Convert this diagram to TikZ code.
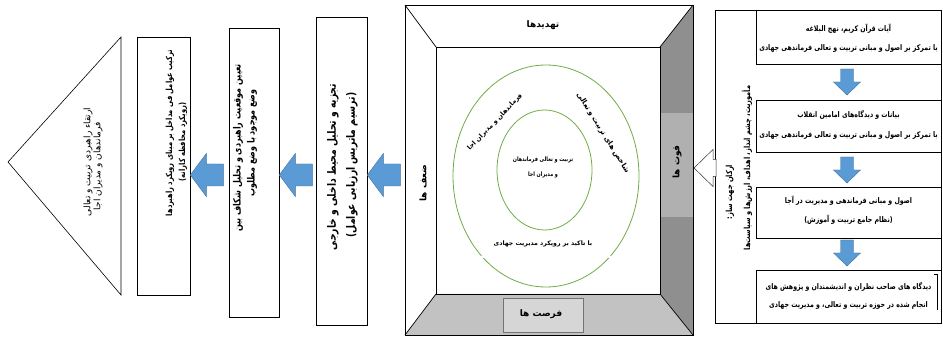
\documentclass[tikz,border=0pt]{standalone}
\usepackage{fontspec}
\newfontfamily\fafont[Script=Arabic]{DejaVu Sans}
\newfontfamily\fanarrow[Script=Arabic, FakeStretch=0.8]{DejaVu Sans}
\TeXXeTstate=1
\newcommand{\fatext}[1]{\beginR #1\endR}
\definecolor{arrowblue}{HTML}{5B9BD5}
\definecolor{arrowedge}{HTML}{41719C}
\definecolor{ringgreen}{HTML}{70AD47}
\definecolor{strengthgray}{HTML}{8F8F8F}
\definecolor{strengthbox}{HTML}{B0B0B0}
\definecolor{oppgray}{HTML}{C2C2C2}
\definecolor{oppbox}{HTML}{D6D6D6}
\tikzset{
  box/.style={draw, line width=0.6pt, inner sep=0pt},
  txt/.style={inner sep=0pt, align=center, font=\fafont\bfseries\fontsize{6}{8}\selectfont},
  bluearrow/.style={fill=arrowblue, draw=arrowedge, line width=0.4pt},
  leftarrowshape/.pic={\path[pic actions] (0,0) -- (16,-21.5) -- (16,-11) -- (33,-11) -- (33,11) -- (16,11) -- (16,21.5) -- cycle;},
  downarrowshape/.pic={\path[pic actions] (0,0) -- (-13.5,-13) -- (-6.5,-13) -- (-6.5,-26) -- (6.5,-26) -- (6.5,-13) -- (13.5,-13) -- cycle;},
  hollowarrowshape/.pic={\path[pic actions] (0,0) -- (19,-18.5) -- (19,-8.5) -- (22,-8.5) -- (22,8.5) -- (19,8.5) -- (19,18.5) -- cycle;},
}
\begin{document}
\begin{tikzpicture}[x=1pt,y=-1pt]
\useasboundingbox (0,0) rectangle (943,339);

% ---------- right block ----------
\node[box, minimum width=226, minimum height=313] (rightblock) at (828,166.5) {};
\node[box, minimum width=185, minimum height=54] (src1) at (848.5,37) {};
\node[box, minimum width=185, minimum height=52] (src2) at (848.5,126) {};
\node[box, minimum width=185, minimum height=51] (src3) at (848.5,212.5) {};
\node[box, minimum width=185, minimum height=53] (src4) at (848.5,296.5) {};
\draw[line width=0.5pt] (934,274) -- (937,274) -- (937,310);

\node[txt, font=\fanarrow\bfseries\fontsize{7.8}{19.5}\selectfont] (src1t) at (848.5,38) {\fatext{آیات قرآن کریم، نهج البلاغه}\\\fatext{با تمرکز بر اصول و مبانی تربیت و تعالی فرماندهی جهادی}};
\node[txt, font=\fanarrow\bfseries\fontsize{7.8}{19.5}\selectfont] (src2t) at (848.5,125) {\fatext{بیانات و دیدگاه‌های امامین انقلاب}\\\fatext{با تمرکز بر اصول و مبانی تربیت و تعالی فرماندهی جهادی}};
\node[txt, font=\fanarrow\bfseries\fontsize{7.8}{19.5}\selectfont] (src3t) at (848.5,210) {\fatext{اصول و مبانی فرماندهی و مدیریت در آجا}\\\fatext{(نظام جامع تربیت و آموزش)}};
\node[txt, font=\fanarrow\bfseries\fontsize{7.8}{18}\selectfont] (src4t) at (848.5,296) {\fatext{دیدگاه های صاحب نظران و اندیشمندان و پژوهش های}\\\fatext{انجام شده در حوزه تربیت و تعالی، و مدیریت جهادی}};

\node[txt, rotate=90, font=\fanarrow\bfseries\fontsize{8.3}{9}\selectfont] (pillars1) at (730,192) {\fatext{ارکان جهت ساز:}};
\node[txt, rotate=90, font=\fanarrow\bfseries\fontsize{8.3}{9}\selectfont] (pillars2) at (747,168) {\fatext{مأموریت، چشم انداز، اهداف، ارزش‌ها و سیاست‌ها}};

\pic[bluearrow] at (847,95) {downarrowshape};
\pic[bluearrow] at (847,183) {downarrowshape};
\pic[bluearrow] at (847,266) {downarrowshape};

% ---------- hollow arrow ----------
\pic[fill=white, draw=black!80, line width=0.5pt] at (694,168) {hollowarrowshape};

% ---------- SWOT square ----------
\coordinate (so1) at (405,5);
\coordinate (so2) at (693,5);
\coordinate (so3) at (693,335);
\coordinate (so4) at (405,335);
\coordinate (si1) at (436,47);
\coordinate (si2) at (660,47);
\coordinate (si3) at (660,294);
\coordinate (si4) at (436,294);
\fill[white] (so1) -- (so2) -- (so3) -- (so4) -- cycle;
\fill[strengthgray] (so2) -- (so3) -- (si3) -- (si2) -- cycle;
\fill[strengthbox] (660,113) rectangle (693,217);
\fill[oppgray] (so4) -- (so3) -- (si3) -- (si4) -- cycle;
\draw[black!55, fill=oppbox, line width=0.5pt] (503,298) rectangle (583,332);
\draw[line width=0.7pt] (so1) -- (so2) -- (so3) -- (so4) -- cycle;
\draw[line width=0.7pt] (si1) -- (si2) -- (si3) -- (si4) -- cycle;
\draw[line width=0.7pt] (so1) -- (si1) (so2) -- (si2) (so3) -- (si3) (so4) -- (si4);

\node[txt, font=\fafont\bfseries\fontsize{9}{10}\selectfont] (threats) at (543,25) {\fatext{تهدیدها}};
\node[txt, font=\fafont\bfseries\fontsize{9}{10}\selectfont] (opps) at (541,314) {\fatext{فرصت ها}};
\node[txt, rotate=90, font=\fafont\bfseries\fontsize{9}{10}\selectfont] (weak) at (423,183) {\fatext{ضعف ها}};
\node[txt, rotate=90, font=\fafont\bfseries\fontsize{9}{10}\selectfont] (strong) at (677,162) {\fatext{قوت ها}};

\draw[ringgreen, line width=0.8pt] (546,176) ellipse [x radius=93, y radius=111];
\fill[white] (482.4,257) circle (1.8) (609.6,257) circle (1.8);
\draw[ringgreen, line width=0.8pt] (544.5,170) ellipse [x radius=47.5, y radius=60];

\node[txt, font=\fanarrow\bfseries\fontsize{6.1}{15}\selectfont] (core) at (543,167.5) {\fatext{تربیت و تعالی فرماندهان}\\\fatext{و مدیران اجا}};
\node[txt, rotate=46, font=\fafont\bfseries\fontsize{6.5}{8}\selectfont] (arcleft) at (495,122) {\fatext{فرماندهان و مدیران اجا}};
\node[txt, rotate=-58, font=\fafont\bfseries\fontsize{7.2}{8}\selectfont] (arcright) at (603,133) {\fatext{شاخص های تربیت و تعالی}};
\node[txt, font=\fafont\bfseries\fontsize{6.2}{8}\selectfont] (jihadi) at (543,244) {\fatext{با تاکید بر رویکرد مدیریت جهادی}};

% ---------- left boxes ----------
\node[box, minimum width=51, minimum height=308] (analysis) at (341.5,171) {};
\node[box, minimum width=50, minimum height=289] (position) at (254,172.5) {};
\node[box, minimum width=53, minimum height=258] (combine) at (163.5,166) {};

\node[txt, rotate=90, font=\fanarrow\bfseries\fontsize{11.5}{12}\selectfont] (analysis1) at (333,167) {\fatext{تجزیه و تحلیل محیط داخلی و خارجی}};
\node[txt, rotate=90, font=\fanarrow\bfseries\fontsize{11.5}{12}\selectfont] (analysis2) at (352,165) {\fatext{(ترسیم ماتریس ارزیابی عوامل)}};
\node[txt, rotate=90, font=\fanarrow\bfseries\fontsize{10}{11}\selectfont] (position1) at (238,148) {\fatext{تعیین موقعیت راهبردی و تحلیل شکاف بین}};
\node[txt, rotate=90, font=\fanarrow\bfseries\fontsize{10}{11}\selectfont] (position2) at (252,143) {\fatext{وضع موجود با وضع مطلوب}};
\node[txt, rotate=90, font=\fanarrow\bfseries\fontsize{8.4}{10}\selectfont] (combine1) at (170,133) {\fatext{ترکیب عوامل فی مداخل بر مبنای رویکرد راهبردها}};
\node[txt, rotate=90, font=\fanarrow\bfseries\fontsize{8.4}{10}\selectfont] (combine2) at (183,142) {\fatext{(رویکرد محافظه کارانه)}};

\pic[bluearrow] at (analysis.east |- 0,175) {leftarrowshape};
\pic[bluearrow] at (position.east |- 0,175) {leftarrowshape};
\pic[bluearrow] at (combine.east |- 0,175) {leftarrowshape};

% ---------- triangle ----------
\coordinate (apex) at (8,162);
\coordinate (btop) at (121,37);
\coordinate (bbot) at (121,295);
\draw[line width=0.6pt] (apex) -- (btop) -- (bbot) -- cycle;
\node[txt, rotate=90, font=\fafont\fontsize{9}{10}\selectfont] (goal1) at (88,162) {\fatext{ارتقاء راهبردی تربیت و تعالی}};
\node[txt, rotate=90, font=\fafont\fontsize{9}{10}\selectfont] (goal2) at (98,166) {\fatext{فرماندهان و مدیران اجا}};
\end{tikzpicture}
\end{document}
